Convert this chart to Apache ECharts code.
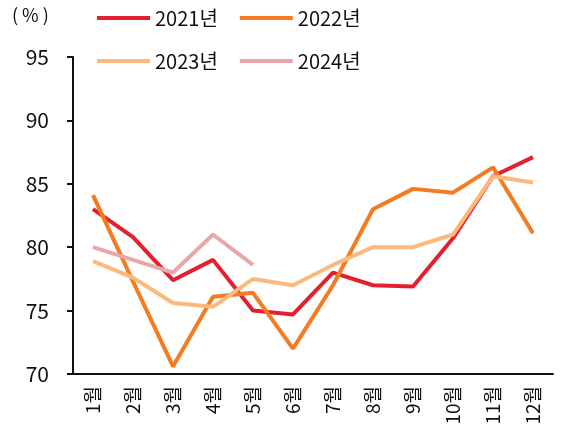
<!DOCTYPE html>
<html>
<head>
<meta charset="utf-8">
<script src="https://cdn.jsdelivr.net/npm/echarts@6/dist/echarts.min.js"></script>
<style>
  html, body { margin: 0; padding: 0; background: #fff; }
  #chart { width: 565px; height: 430px; }
</style>
</head>
<body>
<div id="chart"></div>
<script>
  var months = ['1월', '2월', '3월', '4월', '5월', '6월', '7월', '8월', '9월', '10월', '11월', '12월'];
  var y2021 = [83.0, 80.8, 77.4, 79.0, 75.0, 74.7, 78.0, 77.0, 76.9, 80.7, 85.6, 87.1];
  var y2022 = [84.1, 77.3, 70.6, 76.1, 76.4, 72.0, 77.0, 83.0, 84.6, 84.3, 86.3, 81.1];
  var y2023 = [78.9, 77.6, 75.6, 75.3, 77.5, 77.0, 78.6, 80.0, 80.0, 81.0, 85.6, 85.1];
  var y2024 = [80.0, 79.0, 78.0, 81.0, 78.6];

  var font = '"Noto Sans CJK KR", "Noto Sans", sans-serif';
  var chart = echarts.init(document.getElementById('chart'));

  function line(name, data, color) {
    return {
      name: name,
      type: 'line',
      data: data,
      symbol: 'none',
      lineStyle: { color: color, width: 4 },
      itemStyle: { color: color }
    };
  }

  var legendBase = {
    left: 97,
    padding: 0,
    itemWidth: 53,
    itemHeight: 4,
    itemGap: 22,
    icon: 'rect',
    textStyle: { fontFamily: font, fontSize: 20, color: '#111' }
  };

  chart.setOption({
    animation: false,
    graphic: [{
      type: 'text', left: 12, top: 6,
      style: { text: '( % )', font: '18px ' + font, fill: '#111' }
    }],
    legend: [
      Object.assign({ top: 8, data: ['2021년', '2022년'] }, legendBase),
      Object.assign({ top: 51, data: ['2023년', '2024년'] }, legendBase)
    ],
    grid: { left: 73, right: 12, top: 57, bottom: 56 },
    xAxis: {
      type: 'category',
      data: months,
      boundaryGap: true,
      axisLine: { lineStyle: { color: '#111', width: 2 } },
      axisTick: { length: 7, lineStyle: { color: '#111', width: 2 } },
      axisLabel: { rotate: 90, margin: 12, fontFamily: font, fontSize: 19, color: '#111' }
    },
    yAxis: {
      type: 'value',
      min: 70, max: 95, interval: 5,
      splitLine: { show: false },
      axisLine: { show: true, lineStyle: { color: '#111', width: 2 } },
      axisTick: { show: true, length: 6, lineStyle: { color: '#111', width: 2 } },
      axisLabel: { margin: 24, fontFamily: font, fontSize: 21, color: '#111' }
    },
    series: [
      line('2021년', y2021, '#E5202E'),
      line('2022년', y2022, '#F47B20'),
      line('2023년', y2023, '#FDB97D'),
      line('2024년', y2024, '#EBA7A8')
    ]
  });
</script>
</body>
</html>
